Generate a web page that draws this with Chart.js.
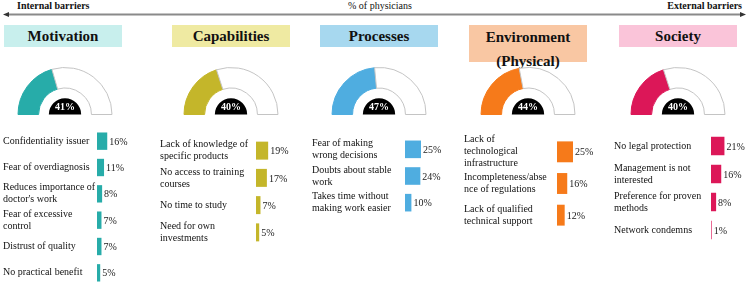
<!DOCTYPE html>
<html>
<head>
<meta charset="utf-8">
<script src="https://cdn.jsdelivr.net/npm/chart.js@4.4.0/dist/chart.umd.min.js"></script>
<style>
body{margin:0;width:750px;height:290px;overflow:hidden;background:#fff;font-family:"Liberation Serif",serif;position:relative;color:#111}
.abs{position:absolute}
.hdr{position:absolute;top:0;font-size:10px;line-height:12px;white-space:nowrap}
.title{position:absolute;top:25px;width:118px;height:22px;font-weight:bold;font-size:15px;text-align:center;line-height:22px;color:#111}
canvas{position:absolute}
</style>
</head>
<body>
<svg class="abs" style="left:0;top:0" width="750" height="22">
  <line x1="8" y1="14.5" x2="740" y2="14.5" stroke="#8a8a8a" stroke-width="2"/>
  <polygon points="3,14.5 9,12 9,17" fill="#333"/>
  <polygon points="746,14.5 740,12 740,17" fill="#333"/>
</svg>
<div class="hdr" style="left:17px;font-weight:bold">Internal barriers</div>
<div class="hdr" style="left:348px">% of physicians</div>
<div class="hdr" style="right:8px;font-weight:bold">External barriers</div>

<div class="title" style="left:4px;background:#c8efed">Motivation</div>
<div class="title" style="left:172px;background:#efeaa2">Capabilities</div>
<div class="title" style="left:320px;background:#a7d8ef">Processes</div>
<div class="title" style="left:469px;background:#f9c7a3;height:37px;line-height:24px">Environment<br>(Physical)</div>
<div class="title" style="left:619px;background:#fac4d9">Society</div>

<script>
// share of physicians naming each barrier group
let totals = [41, 40, 47, 44, 40]

let motivationLabels = [["Confidentiality issuer"], ["Fear of overdiagnosis"], ["Reduces importance of", "doctor's work"], ["Fear of excessive", "control"], ["Distrust of quality"], ["No practical benefit"]]
let motivationValues = [16, 11, 8, 7, 7, 5]

let capabilitiesLabels = [["Lack of knowledge of", "specific products"], ["No access to training", "courses"], ["No time to study"], ["Need for own", "investments"]]
let capabilitiesValues = [19, 17, 7, 5]

let processesLabels = [["Fear of making", "wrong decisions"], ["Doubts about stable", "work"], ["Takes time without", "making work easier"]]
let processesValues = [25, 24, 10]

let environmentLabels = [["Lack of", "technological", "infrastructure"], ["Incompleteness/abse", "nce of regulations"], ["Lack of qualified", "technical support"]]
let environmentValues = [25, 16, 12]

let societyLabels = [["No legal protection"], ["Management is not", "interested"], ["Preference for proven", "methods"], ["Network condemns"]]
let societyValues = [21, 16, 8, 1]

let panels = [
    {labels: motivationLabels, values: motivationValues, color: '#27aca9', left: 3, barX: 97, top: 122, h: 170, cx: 65},
    {labels: capabilitiesLabels, values: capabilitiesValues, color: '#c4b62a', left: 160, barX: 256, top: 125, h: 133, cx: 231},
    {labels: processesLabels, values: processesValues, color: '#4fade0', left: 312, barX: 405, top: 124, h: 104, cx: 379},
    {labels: environmentLabels, values: environmentValues, color: '#f67a1a', left: 464, barX: 557, top: 124, h: 125, cx: 528},
    {labels: societyLabels, values: societyValues, color: '#dc1758', left: 614, barX: 711, top: 126, h: 124, cx: 678}
]

function makeCanvas(left, top, w, h) {
    let c = document.createElement('canvas')
    c.width = w
    c.height = h
    c.style.left = left + 'px'
    c.style.top = top + 'px'
    document.body.appendChild(c)
    return c
}

let valueLabels = {
    id: 'valueLabels',
    afterDatasetsDraw(chart) {
        let ctx = chart.ctx
        let meta = chart.getDatasetMeta(0)
        ctx.save()
        ctx.font = '10px "Liberation Serif"'
        ctx.fillStyle = '#222'
        ctx.textBaseline = 'middle'
        meta.data.forEach((bar, i) => {
            ctx.fillText(chart.data.datasets[0].data[i] + '%', bar.x + 2, bar.y + 1)
        })
        ctx.restore()
    }
}

let centerText = {
    id: 'centerText',
    afterDatasetsDraw(chart) {
        let arc = chart.getDatasetMeta(0).data[0]
        let ctx = chart.ctx
        ctx.save()
        ctx.font = 'bold 10px "Liberation Serif"'
        ctx.fillStyle = '#fff'
        ctx.textAlign = 'center'
        ctx.textBaseline = 'middle'
        ctx.fillText(chart.data.datasets[0].data[0] + '%', arc.x, arc.y - 7)
        ctx.restore()
    }
}

panels.forEach((p, k) => {
    let t = totals[k]
    new Chart(makeCanvas(p.cx - 50, 65, 100, 50), {
        type: 'doughnut',
        data: {
            datasets: [
                {data: [t, 100 - t], backgroundColor: [p.color, '#fff'], borderColor: [p.color, '#c4c4c4'], borderWidth: 1, weight: 21},
                {data: [1], backgroundColor: 'rgba(0,0,0,0)', borderWidth: 0, weight: 10.5},
                {data: [1], backgroundColor: '#000', borderWidth: 0, weight: 16.5}
            ]
        },
        options: {
            responsive: false,
            animation: false,
            rotation: -90,
            circumference: 180,
            cutout: 0,
            layout: {padding: {top: 2, left: 2, right: 2, bottom: 0}},
            plugins: {legend: {display: false}, tooltip: {enabled: false}}
        },
        plugins: [centerText]
    })

    let axisW = p.barX - p.left
    new Chart(makeCanvas(p.left, p.top, axisW + 64 + 30, p.h), {
        type: 'bar',
        data: {
            labels: p.labels,
            datasets: [{data: p.values, backgroundColor: p.color, barPercentage: 0.66, categoryPercentage: 1}]
        },
        options: {
            indexAxis: 'y',
            responsive: false,
            animation: false,
            layout: {padding: {right: 30}},
            plugins: {legend: {display: false}, tooltip: {enabled: false}},
            scales: {
                x: {display: false, min: 0, max: 100},
                y: {
                    grid: {display: false},
                    border: {display: false},
                    ticks: {autoSkip: false, crossAlign: 'far', padding: 0, color: '#111',
                        font: {family: 'Liberation Serif', size: 10, lineHeight: 1.2}},
                    afterFit: s => { s.width = axisW }
                }
            }
        },
        plugins: [valueLabels]
    })
})
</script>
</body>
</html>
